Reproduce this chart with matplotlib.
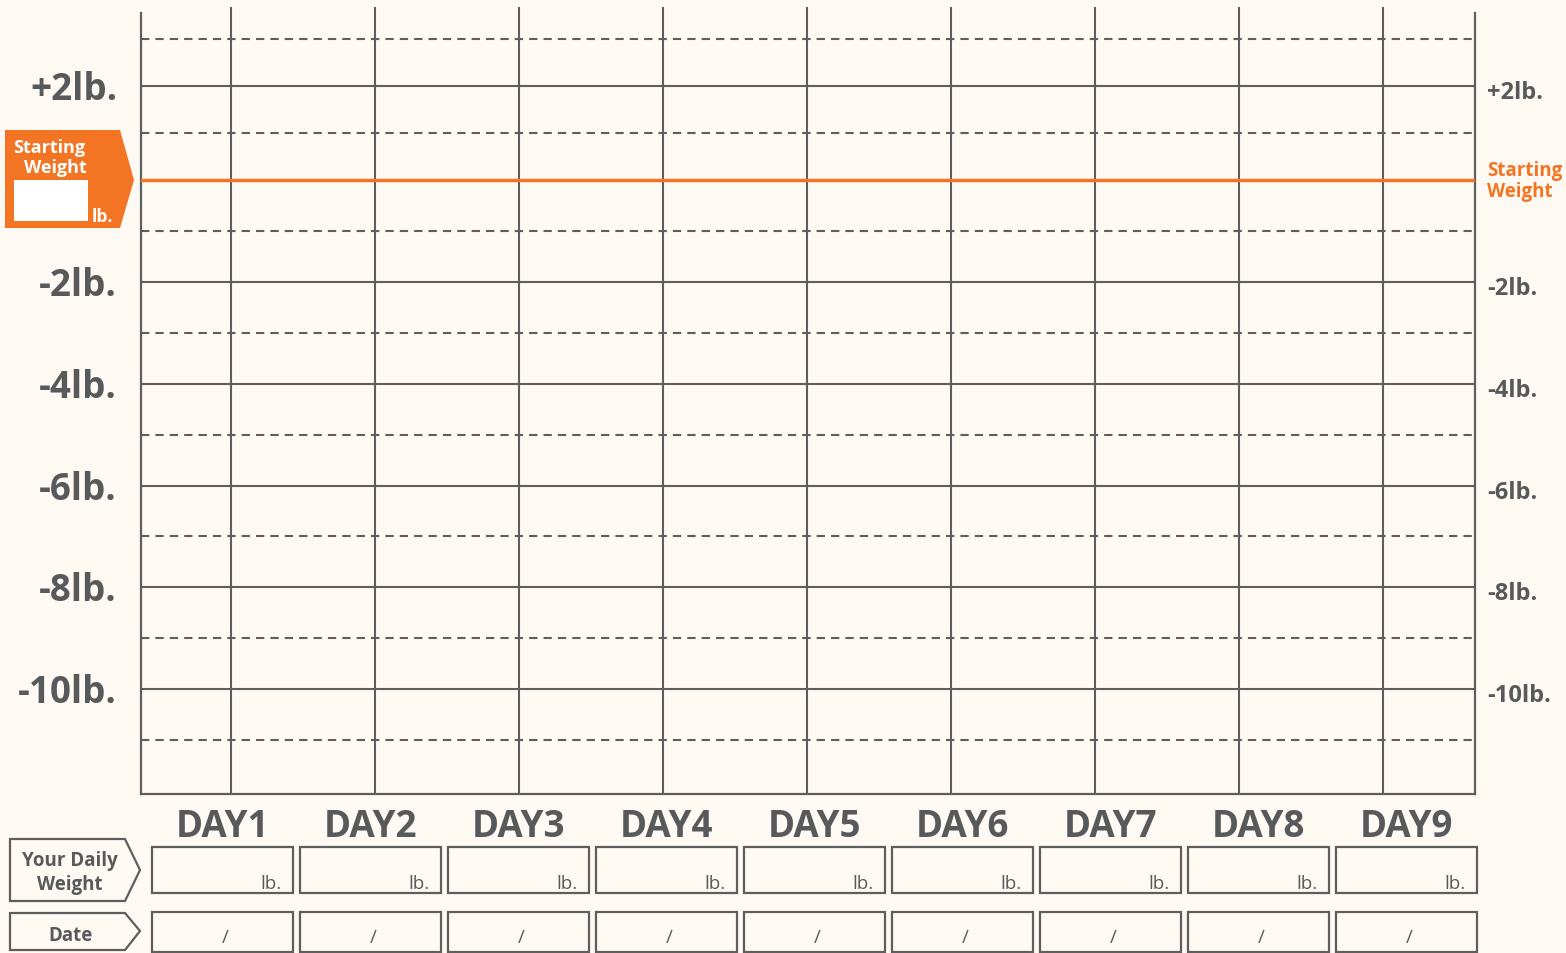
import matplotlib
matplotlib.use("Agg")
import matplotlib.pyplot as plt
from matplotlib.patches import Polygon, Rectangle
import numpy as np

# ---------------- data ----------------
days = [1, 2, 3, 4, 5, 6, 7, 8, 9]
day_labels = ["DAY1", "DAY2", "DAY3", "DAY4", "DAY5", "DAY6", "DAY7", "DAY8", "DAY9"]
solid_levels = [2, -2, -4, -6, -8, -10]
left_labels = ["+2lb.", "-2lb.", "-4lb.", "-6lb.", "-8lb.", "-10lb."]
right_labels = ["+2lb.", "-2lb.", "-4lb.", "-6lb.", "-8lb.", "-10lb."]
dashed_levels = [3, 1, -1, -3, -5, -7, -9, -11]
start_level = 0
start_label = "Starting\nWeight"

# ---------------- style ----------------
BG = "#FEFAF3"
TXT = "#58595B"
LINE = "#5E5E5E"
ORANGE = "#F37524"
FONT = "Open Sans"

W, H = 1566, 954
fig = plt.figure(figsize=(W / 100, H / 100), dpi=100, facecolor=BG)


def fx(px):
    return px / W


def fy(py):
    return 1 - py / H


# overlay axes in pixel coordinates for decorations
ov = fig.add_axes([0, 0, 1, 1])
ov.set_xlim(0, W)
ov.set_ylim(H, 0)
ov.axis("off")

# main grid axes
ax = fig.add_axes([fx(141), fy(795), fx(1475) - fx(141), fy(8) - fy(795)])
ax.set_facecolor("none")


def fwd(v):
    v = np.asarray(v, dtype=float)
    return np.where(v > 0, v * 0.925, v)


def inv(u):
    u = np.asarray(u, dtype=float)
    return np.where(u > 0, u / 0.925, u)


ax.set_yscale("function", functions=(fwd, inv))
ax.set_xlim(0.375, 9.64)
ax.set_ylim(-12.06, 3.68)
ax.set_xticks([])
ax.set_yticks([])
ax.spines["top"].set_visible(False)
for s in ["left", "right", "bottom"]:
    ax.spines[s].set_color(LINE)
    ax.spines[s].set_linewidth(1.6)
ax.spines["left"].set_bounds(-12.06, 3.55)
ax.spines["right"].set_bounds(-12.06, 3.55)

for d in days:
    ax.axvline(d, color=LINE, lw=1.5, zorder=2)
for lv in solid_levels:
    ax.axhline(lv, color=LINE, lw=1.5, zorder=2)
for lv in dashed_levels:
    ax.axhline(lv, color=LINE, lw=1.5, linestyle=(0, (4.0, 2.9)), zorder=2)
ax.axhline(start_level, color=ORANGE, lw=2.5, zorder=3)

# axis labels (left / right)
for lv, lab in zip(solid_levels, left_labels):
    ax.annotate(lab, xy=(0, lv), xycoords=("axes fraction", "data"),
                xytext=(-24 * 0.72, -13 * 0.72), textcoords="offset points",
                ha="right", va="baseline", fontsize=26.5, fontweight="bold",
                family=FONT, color=TXT)
for lv, lab in zip(solid_levels, right_labels):
    ax.annotate(lab, xy=(1, lv), xycoords=("axes fraction", "data"),
                xytext=(12 * 0.72, -12 * 0.72), textcoords="offset points",
                ha="left", va="baseline", fontsize=17, fontweight="bold",
                family=FONT, color=TXT)
ax.annotate(start_label, xy=(1, start_level), xycoords=("axes fraction", "data"),
            xytext=(12 * 0.72, 0), textcoords="offset points",
            ha="left", va="center", fontsize=13.5, fontweight="bold",
            family=FONT, color=ORANGE, linespacing=1.05)

# orange starting weight tag on left
ov.add_patch(Polygon([(5, 131), (120, 131), (134, 181), (120, 229), (5, 229)],
                     closed=True, facecolor=ORANGE, edgecolor="none"))
ov.add_patch(Rectangle((14, 181), 74, 41, facecolor="white", edgecolor="none"))
ov.text(49, 153, "Starting", ha="center", va="baseline", fontsize=13,
        fontweight="bold", family=FONT, color="white")
ov.text(55, 173, "Weight", ha="center", va="baseline", fontsize=13,
        fontweight="bold", family=FONT, color="white")
ov.text(102, 222, "lb.", ha="center", va="baseline", fontsize=12.5,
        fontweight="bold", family=FONT, color="white")

# bottom row tags
ov.add_patch(Polygon([(10, 840), (125, 840), (140, 871), (125, 902), (10, 902)],
                     closed=True, facecolor=BG, edgecolor=LINE, lw=1.6))
ov.text(70, 866, "Your Daily", ha="center", va="baseline", fontsize=13.5,
        fontweight="bold", family=FONT, color=TXT)
ov.text(70, 890, "Weight", ha="center", va="baseline", fontsize=13.5,
        fontweight="bold", family=FONT, color=TXT)
ov.add_patch(Polygon([(10, 914), (125, 914), (140, 932), (125, 951), (10, 951)],
                     closed=True, facecolor=BG, edgecolor=LINE, lw=1.6))
ov.text(70, 941, "Date", ha="center", va="baseline", fontsize=13.5,
        fontweight="bold", family=FONT, color=TXT)

# day boxes
for i, lab in enumerate(day_labels):
    x0 = 152 + 148 * i
    ov.text(x0 + 70.5, 837, lab, ha="center", va="baseline", fontsize=26.5,
            fontweight="bold", family=FONT, color=TXT)
    ov.add_patch(Rectangle((x0, 848), 141, 46, facecolor="none",
                           edgecolor=LINE, lw=1.6))
    ov.text(x0 + 129, 889, "lb.", ha="right", va="baseline", fontsize=13.5,
            family=FONT, color=TXT)
    ov.add_patch(Rectangle((x0, 913), 141, 40, facecolor="none",
                           edgecolor=LINE, lw=1.6))
    ov.text(x0 + 73, 943, "/", ha="center", va="baseline", fontsize=13.5,
            family=FONT, color=TXT)

fig.savefig("out.png", dpi=100, facecolor=BG)
